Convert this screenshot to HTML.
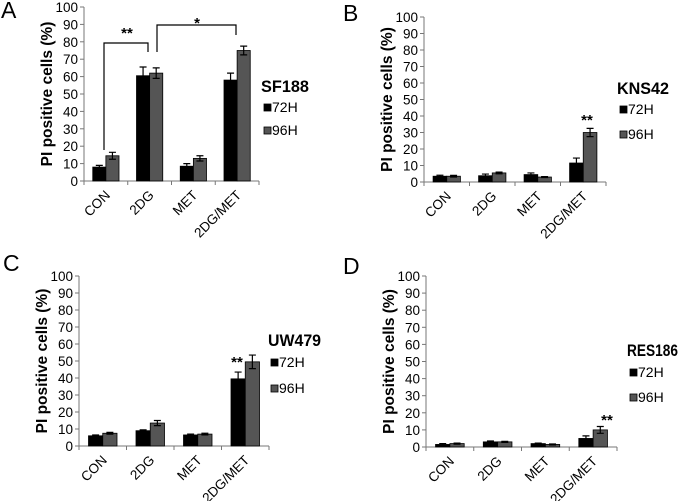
<!DOCTYPE html>
<html><head><meta charset="utf-8"><style>
body{margin:0;background:#fff;}
svg{display:block;font-family:"Liberation Sans",Arial,sans-serif;}
</style></head><body>
<svg id="fig" width="680" height="501" viewBox="0 0 680 501"></svg>
<script>
const categories = ["CON","2DG","MET","2DG/MET"];
const yTicks = [0,10,20,30,40,50,60,70,80,90,100];
const seriesNames = ["72H","96H"];
const a72 = [8,60.5,8.5,58], a72e = [1,5,1.5,4];
const a96 = [14.5,62,13,75], a96e = [2,3,1.5,2.5];
const b72 = [3.5,3.8,4.5,11.5], b72e = [0.6,1,1,3];
const b96 = [3.5,5.5,3,30], b96e = [0.5,0.5,0.3,2.5];
const c72 = [6,9,6.5,39.5], c72e = [0.5,0.5,0.5,4];
const c96 = [7.5,13.5,7,49.5], c96e = [0.5,1.5,0.5,4];
const d72 = [1.5,3,2,5], d72e = [0.5,0.5,0.3,1.5];
const d96 = [2,3,1.5,10], d96e = [0.3,0.3,0.3,2];

const NS="http://www.w3.org/2000/svg";
const svg=document.getElementById('fig');
function mk(tag,attrs,parent,text){const e=document.createElementNS(NS,tag);for(const k in attrs)e.setAttribute(k,attrs[k]);if(text!==undefined)e.textContent=text;(parent||svg).appendChild(e);return e;}

function panel(p){
  const g=mk('g',{});
  
  
  const y=v=>p.y0-(p.y0-p.y100)*v/100;
  const gw=(p.xr-p.x0)/categories.length;
  const bw=gw*0.3;
  const L=mk('text',{x:p.lx,y:p.ly,'font-size':23},g,p.letter);
  
  const ax=mk('line',{x1:p.x0,y1:p.y100,x2:p.x0,y2:p.y0,stroke:'#777','stroke-width':1},g);
  
  const bx=mk('line',{x1:p.x0,y1:p.y0,x2:p.xr,y2:p.y0,stroke:'#777','stroke-width':1},g);
  
  yTicks.forEach(t=>{
    mk('line',{x1:p.x0-4,y1:y(t),x2:p.x0,y2:y(t),stroke:'#777'},g);
    const tl=mk('text',{x:p.x0-6,y:y(t)+5,'font-size':13.5,'text-anchor':'end'},g,t);
    
  });
  for(let i=0;i<=categories.length;i++){mk('line',{x1:p.x0+i*gw,y1:p.y0,x2:p.x0+i*gw,y2:p.y0+4,stroke:'#777'},g);}
  const yt=mk('text',{transform:`translate(${p.x0-32},${(p.y0+p.y100)/2}) rotate(-90)`,'font-size':15.5,'font-weight':'bold','text-anchor':'middle'},g,'PI positive cells (%)');
  
  categories.forEach((c,i)=>{
    const cx=p.x0+gw*(i+0.5);
    const t=mk('text',{transform:`translate(${cx+5},${p.y0+15}) rotate(-45)`,'font-size':13.5,'text-anchor':'end'},g,c);
    
    [[p.s1,p.e1,'#000'],[p.s2,p.e2,'#555']].forEach((s,k)=>{
      const v=s[0][i],e=s[1][i];
      const x=cx-bw+k*bw;
      const r=mk('rect',{x:x,y:y(v),width:bw,height:p.y0-y(v),fill:s[2],stroke:'#000','stroke-width':0.8},g);
      
      
      const m=x+bw/2;
      mk('path',{d:`M${m},${y(v-e)}V${y(v+e)}M${m-3.5},${y(v+e)}H${m+3.5}M${m-3.5},${y(v-e)}H${m+3.5}`,stroke:'#000','stroke-width':1.2,fill:'none'},g);
    });
  });
  const lt=mk('text',{x:p.legx,y:p.legy,'font-size':17,'font-weight':'bold',textLength:p.lw,lengthAdjust:'spacingAndGlyphs'},g,p.name);
  
  seriesNames.forEach((n,k)=>{
    const yy=p.legy+p.l1+k*p.ld;
    const lg=mk('g',{},g);
    
    mk('rect',{x:p.legx+3,y:yy-9,width:7,height:7,fill:k?'#555':'#000',stroke:'#000','stroke-width':0.8},lg);
    mk('text',{x:p.legx+11,y:yy-1,'font-size':14},lg,n);
  });
  return {g,y,gw,bw};
}

const A=panel({letter:'A',lx:1,ly:18,x0:84,y0:181,y100:7,xr:259,s1:a72,e1:a72e,s2:a96,e2:a96e,name:'SF188',lw:48,legx:261,legy:92,l1:21,ld:23});
const B=panel({letter:'B',lx:343,ly:21,x0:424,y0:182,y100:17,xr:606,s1:b72,e1:b72e,s2:b96,e2:b96e,name:'KNS42',lw:52,legx:617,legy:94,l1:21,ld:25});
const C=panel({letter:'C',lx:3,ly:271,x0:79,y0:446,y100:276,xr:269,s1:c72,e1:c72e,s2:c96,e2:c96e,name:'UW479',lw:53,legx:268,legy:346,l1:22,ld:26});
const D=panel({letter:'D',lx:343,ly:274,x0:426,y0:447,y100:276,xr:617,s1:d72,e1:d72e,s2:d96,e2:d96e,name:'RES186',lw:51,legx:627,legy:356,l1:22,ld:25});

function star(g,x,yy,t){const s=mk('text',{x:x,y:yy,'font-size':15,'font-weight':'bold','text-anchor':'middle'},g,t);}
const br1=mk('path',{d:'M104,150V43H148V52',stroke:'#000','stroke-width':1.2,fill:'none'},A.g);

const br2=mk('path',{d:'M157,52V25H236V35',stroke:'#000','stroke-width':1.2,fill:'none'},A.g);

star(A.g,127,38,'**');star(A.g,197,28,'*');
star(B.g,587,125,'**');
star(C.g,237,367,'**');
star(D.g,607,425,'**');
</script>
</body></html>
